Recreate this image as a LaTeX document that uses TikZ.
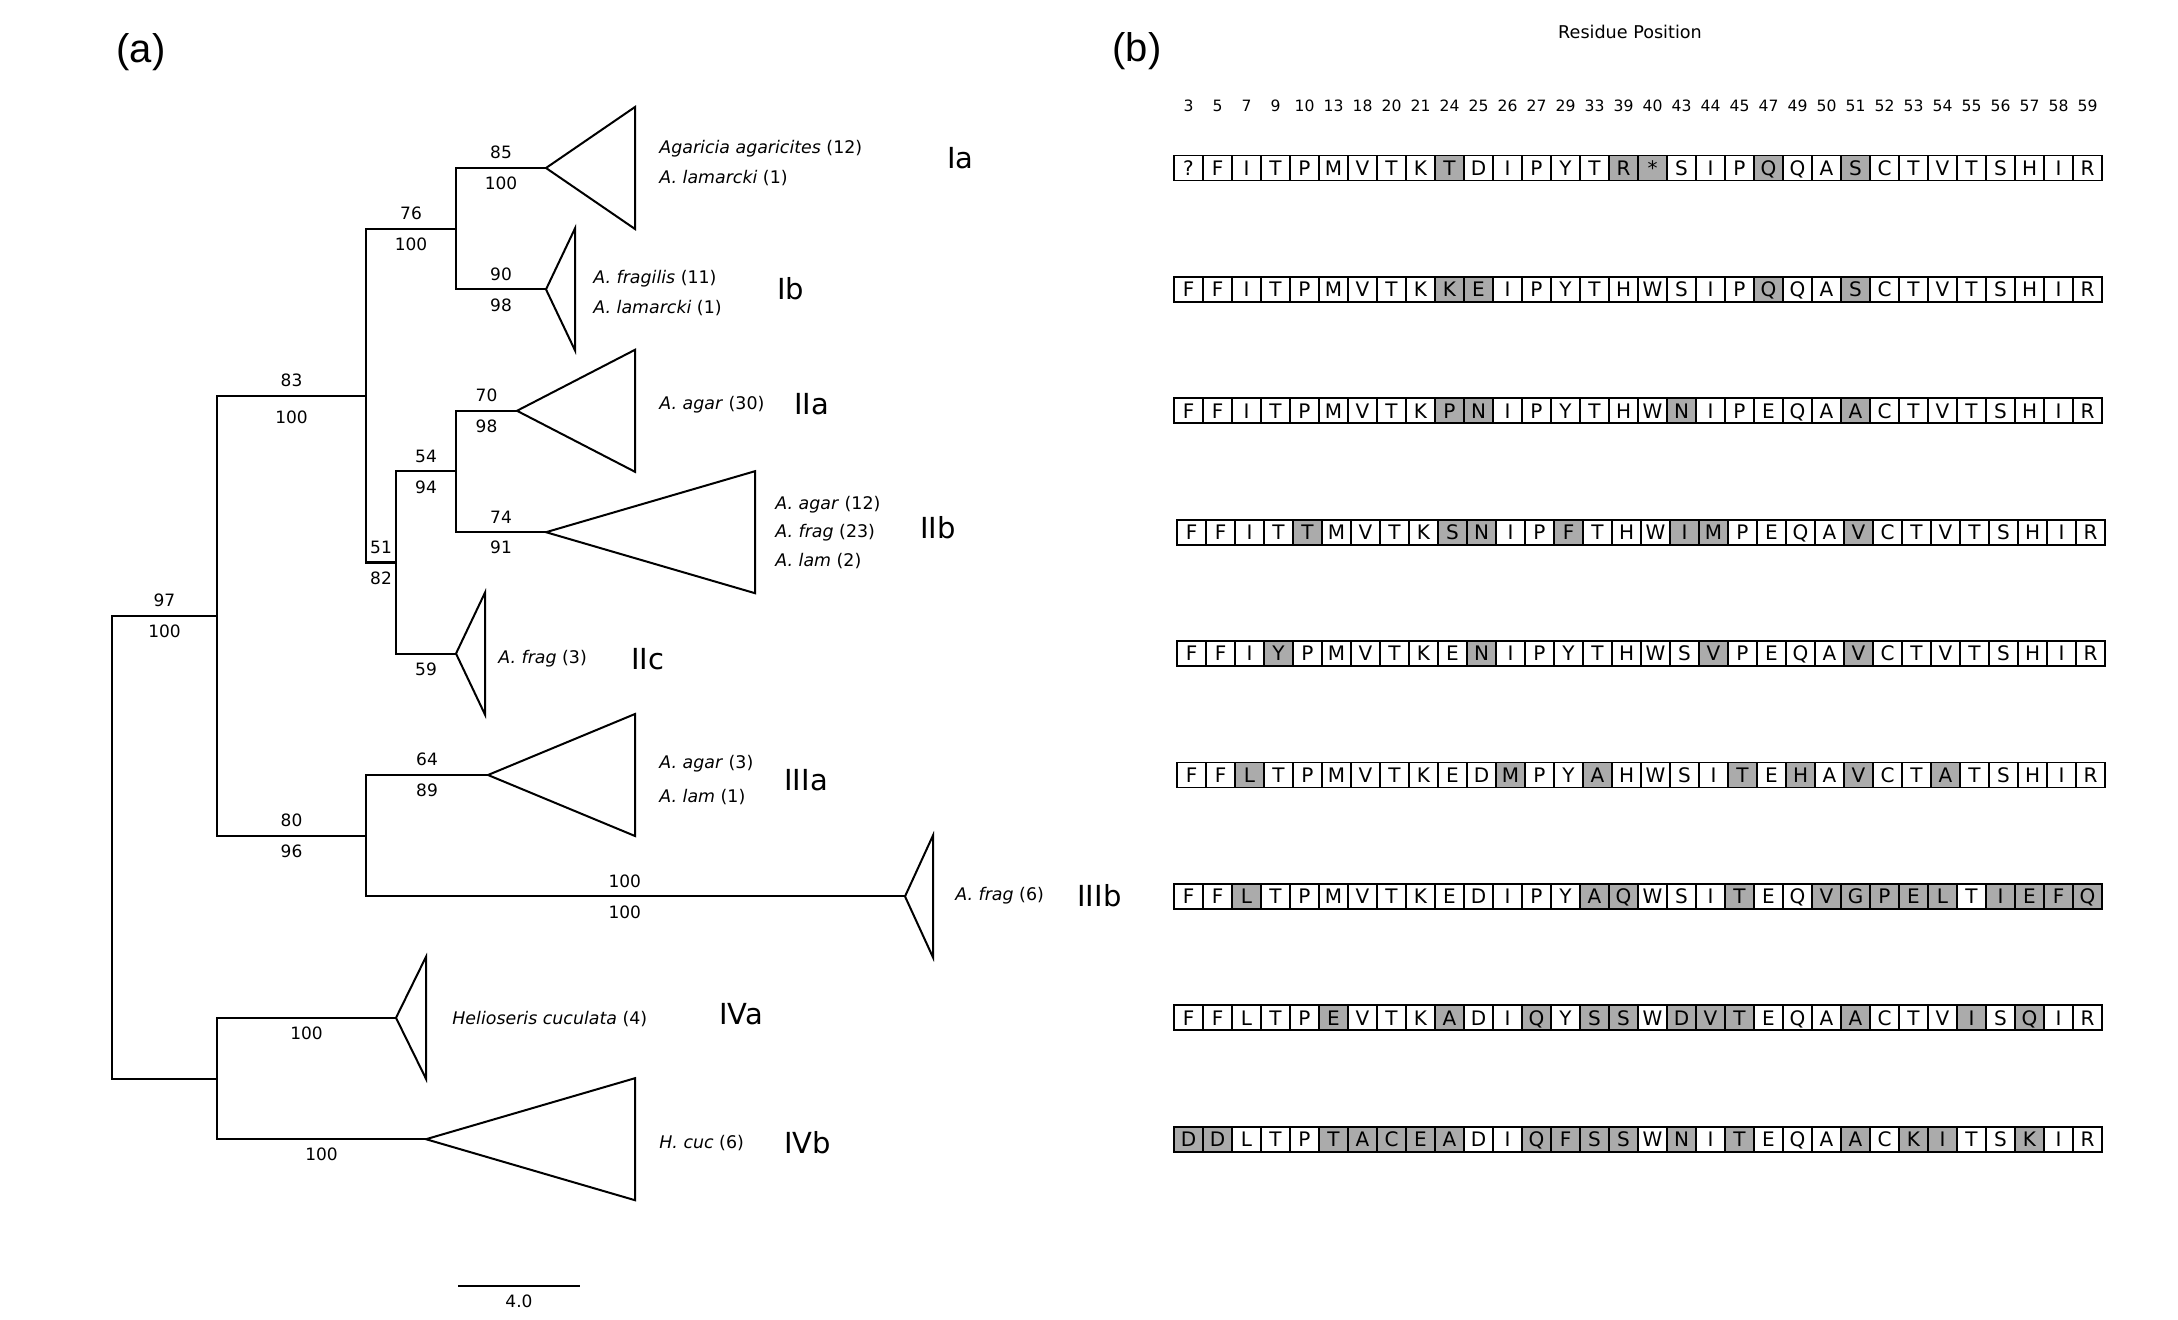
\documentclass[tikz,border=0pt]{standalone}
\usepackage{fontspec}
\setmainfont{DejaVu Sans}
\newfontfamily\panelfont{Liberation Sans}
\usetikzlibrary{positioning}
\definecolor{shade}{HTML}{ABABAB}
\tikzset{
  branch/.style={line width=1pt},
  clade/.style={line width=1pt},
  supp/.style={font=\fontsize{8.5}{10}\selectfont, inner sep=4pt},
  taxon/.style={font=\fontsize{8.7}{10}\selectfont, anchor=west, inner sep=0pt, text height=6.3pt, text depth=0pt},
  group/.style={font=\fontsize{14.5}{16}\selectfont, anchor=west, inner sep=0pt, text height=10.5pt, text depth=0pt},
  cell/.style={draw, line width=0.55pt, minimum width=14.5pt, minimum height=12.5pt, inner sep=0pt, outer sep=0pt, text height=7.3pt, text depth=0pt, font=\fontsize{10}{12}\selectfont},
  posnum/.style={font=\fontsize{7.8}{9}\selectfont, inner sep=0pt},
  panel/.style={font=\panelfont\fontsize{20}{24}\selectfont, inner sep=0pt}
}
\newcommand{\clade}[2]{\draw[clade] (#1) -- ++(#2,-61) -- ++(0,122) -- cycle;}

\begin{document}
\begin{tikzpicture}[x=0.5pt, y=-0.5pt]
  \useasboundingbox (0,0) rectangle (2178,1320);
  \node[panel] (pa) at (141,52) {(a)};
  \node[panel] (pb) at (1137,51) {(b)};
  %
  % tree
  \coordinate (root)  at (112,847.1);
  \coordinate (nA)    at (217,615.6);
  \coordinate (nB)    at (366,395.6);
  \coordinate (nI)    at (456,228.7);
  \coordinate (nII)   at (396,562.5);
  \coordinate (nIIab) at (456,471.5);
  \coordinate (nIII)  at (366,835.7);
  \coordinate (nIV)   at (217,1078.5);
  \coordinate (Ia)    at (546,168);
  \coordinate (Ib)    at (546,289.4);
  \coordinate (IIa)   at (517,410.8);
  \coordinate (IIb)   at (546,532.2);
  \coordinate (IIc)   at (456,653.6);
  \coordinate (IIIa)  at (488,775);
  \coordinate (IIIb)  at (905,896.4);
  \coordinate (IVa)   at (396,1017.8);
  \coordinate (IVb)   at (426,1139.2);
  %
  \draw[branch] (root) |- node[supp,pos=.75,above] {97} node[supp,pos=.75,below] {100} (nA);
  \draw[branch] (root) |- (nIV);
  \draw[branch] (nA) |- node[supp,pos=.75,above] {83} node[supp,pos=.75,below,yshift=-3pt] {100} (nB);
  \draw[branch] (nA) |- node[supp,pos=.75,above] {80} node[supp,pos=.75,below] {96} (nIII);
  \draw[branch] (nB) |- node[supp,pos=.75,above] {76} node[supp,pos=.75,below] {100} (nI);
  \draw[branch] (nB) |- node[supp,pos=.75,above] {51} node[supp,pos=.75,below] {82} (nII);
  \draw[branch] (nI) |- node[supp,pos=.75,above] {85} node[supp,pos=.75,below] {100} (Ia);
  \draw[branch] (nI) |- node[supp,pos=.75,above] {90} node[supp,pos=.75,below] {98} (Ib);
  \draw[branch] (nII) |- node[supp,pos=.75,above] {54} node[supp,pos=.75,below] {94} (nIIab);
  \draw[branch] (nII) |- node[supp,pos=.75,below] {59} (IIc);
  \draw[branch] (nIIab) |- node[supp,pos=.75,above] {70} node[supp,pos=.75,below] {98} (IIa);
  \draw[branch] (nIIab) |- node[supp,pos=.75,above] {74} node[supp,pos=.75,below] {91} (IIb);
  \draw[branch] (nIII) |- node[supp,pos=.75,above] {64} node[supp,pos=.75,below] {89} (IIIa);
  \draw[branch] (nIII) |- node[supp,pos=.74,above] {100} node[supp,pos=.74,below] {100} (IIIb);
  \draw[branch] (nIV) |- node[supp,pos=.75,below] {100} (IVa);
  \draw[branch] (nIV) |- node[supp,pos=.75,below] {100} (IVb);
  %
  \clade{Ia}{89} \clade{Ib}{29} \clade{IIa}{118} \clade{IIb}{209} \clade{IIc}{29}
  \clade{IIIa}{147} \clade{IIIb}{28} \clade{IVa}{30} \clade{IVb}{209}
  %
  % taxa
  \node[taxon] (tIa1)   at (659,147)  {\textit{Agaricia agaricites} (12)};
  \node[taxon] (tIa2)   at (659,177)  {\textit{A. lamarcki} (1)};
  \node[taxon] (tIb1)   at (593,277)  {\textit{A. fragilis} (11)};
  \node[taxon] (tIb2)   at (593,307)  {\textit{A. lamarcki} (1)};
  \node[taxon] (tIIa)   at (659,403)  {\textit{A. agar} (30)};
  \node[taxon] (tIIb1)  at (775,503)  {\textit{A. agar} (12)};
  \node[taxon] (tIIb2)  at (775,531)  {\textit{A. frag} (23)};
  \node[taxon] (tIIb3)  at (775,560)  {\textit{A. lam} (2)};
  \node[taxon] (tIIc)   at (498,657)  {\textit{A. frag} (3)};
  \node[taxon] (tIIIa1) at (659,762)  {\textit{A. agar} (3)};
  \node[taxon] (tIIIa2) at (659,796)  {\textit{A. lam} (1)};
  \node[taxon] (tIIIb)  at (955,894)  {\textit{A. frag} (6)};
  \node[taxon] (tIVa)   at (452,1018) {\textit{Helioseris cuculata} (4)};
  \node[taxon] (tIVb)   at (659,1142) {\textit{H. cuc} (6)};
  %
  \node[group] (gIa)   at (947,158)  {Ia};
  \node[group] (gIb)   at (777,289)  {Ib};
  \node[group] (gIIa)  at (794,404)  {IIa};
  \node[group] (gIIb)  at (920,528)  {IIb};
  \node[group] (gIIc)  at (631,659)  {IIc};
  \node[group] (gIIIa) at (784,780)  {IIIa};
  \node[group] (gIIIb) at (1077,896) {IIIb};
  \node[group] (gIVa)  at (719,1014) {IVa};
  \node[group] (gIVb)  at (784,1143) {IVb};
  %
  % scale bar
  \coordinate (sbL) at (458,1286);
  \coordinate (sbR) at (580,1286);
  \draw[branch] (sbL) -- node[supp,below] {4.0} (sbR);
  %
  % alignment
  \node[posnum, font=\fontsize{8.8}{10}\selectfont] (rp) at (1630,32) {Residue Position};
  \foreach \n [count=\c] in {3,5,7,9,10,13,18,20,21,24,25,26,27,29,33,39,40,43,44,45,47,49,50,51,52,53,54,55,56,57,58,59}
    \node[posnum] (p\c) at ({1174+29*(\c-0.5)},106) {\n};
  \foreach \r/\dx/\seq/\hl in {
    1/0/{?,F,I,T,P,M,V,T,K,T,D,I,P,Y,T,R,*,S,I,P,Q,Q,A,S,C,T,V,T,S,H,I,R}/{10,16,17,21,24},
    2/0/{F,F,I,T,P,M,V,T,K,K,E,I,P,Y,T,H,W,S,I,P,Q,Q,A,S,C,T,V,T,S,H,I,R}/{10,11,21,24},
    3/0/{F,F,I,T,P,M,V,T,K,P,N,I,P,Y,T,H,W,N,I,P,E,Q,A,A,C,T,V,T,S,H,I,R}/{10,11,18,24},
    4/3/{F,F,I,T,T,M,V,T,K,S,N,I,P,F,T,H,W,I,M,P,E,Q,A,V,C,T,V,T,S,H,I,R}/{5,10,11,14,18,19,24},
    5/3/{F,F,I,Y,P,M,V,T,K,E,N,I,P,Y,T,H,W,S,V,P,E,Q,A,V,C,T,V,T,S,H,I,R}/{4,11,19,24},
    6/3/{F,F,L,T,P,M,V,T,K,E,D,M,P,Y,A,H,W,S,I,T,E,H,A,V,C,T,A,T,S,H,I,R}/{3,12,15,20,22,24,27},
    7/0/{F,F,L,T,P,M,V,T,K,E,D,I,P,Y,A,Q,W,S,I,T,E,Q,V,G,P,E,L,T,I,E,F,Q}/{3,15,16,20,23,24,25,26,27,29,30,31,32},
    8/0/{F,F,L,T,P,E,V,T,K,A,D,I,Q,Y,S,S,W,D,V,T,E,Q,A,A,C,T,V,I,S,Q,I,R}/{6,10,13,15,16,18,19,20,24,28,30},
    9/0/{D,D,L,T,P,T,A,C,E,A,D,I,Q,F,S,S,W,N,I,T,E,Q,A,A,C,K,I,T,S,K,I,R}/{1,2,6,7,8,9,10,13,14,15,16,18,20,24,26,27,30}}{
    \foreach \l [count=\c] in \seq {
      \xdef\cellfill{white}
      \foreach \s in \hl {\ifnum\s=\c\relax\xdef\cellfill{shade}\fi}
      \node[cell, fill=\cellfill] (s\r-\c) at ({1174+\dx+29*(\c-0.5)},{168+121.4*(\r-1)}) {\l};
    }
    \draw[line width=0.9pt] (s\r-1.north west) rectangle (s\r-32.south east);
  }
\end{tikzpicture}
\end{document}
